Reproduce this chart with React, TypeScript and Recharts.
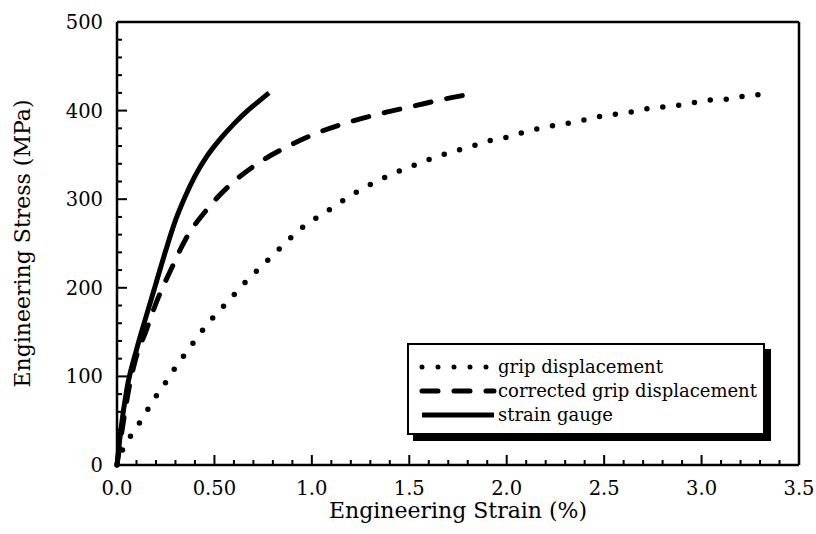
import { Label, Legend, Line, LineChart, XAxis, YAxis } from "recharts";

// grip displacement (dotted)
const gripStrain = [
  0, 0.03, 0.08, 0.135, 0.18, 0.24, 0.29, 0.345, 0.405, 0.46, 0.53, 0.6, 0.67, 0.74, 0.81, 0.88,
  0.95, 1.03, 1.11, 1.19, 1.27, 1.35, 1.43, 1.51, 1.59, 1.67, 1.76, 1.84, 1.91, 2.0, 2.08, 2.15,
  2.24, 2.32, 2.39, 2.47, 2.56, 2.63, 2.72, 2.8, 2.88, 2.96, 3.04, 3.13, 3.21, 3.29, 3.32
];
const gripStress = [
  0, 18, 36, 54, 71, 90, 107, 124, 142, 158, 175, 192, 209, 224, 239, 254,
  268, 280, 291, 303, 313, 322, 330, 337, 344, 350, 356, 361, 366, 370, 375, 379,
  383, 386, 389, 393, 396, 398, 402, 404, 406, 409, 412, 413, 416, 418, 419
];

// corrected grip displacement (dashed)
const corrStrain = [0, 0.03, 0.06, 0.09, 0.15, 0.21, 0.28, 0.35, 0.46, 0.58, 0.72, 0.88, 1.03, 1.19, 1.36, 1.52, 1.68, 1.85];
const corrStress = [0, 45, 85, 115, 152, 188, 222, 254, 288, 316, 340, 360, 375, 387, 397, 405, 413, 420];

// strain gauge (solid)
const gaugeStrain = [0, 0.02, 0.05, 0.1, 0.15, 0.2, 0.25, 0.3, 0.35, 0.4, 0.46, 0.53, 0.6, 0.67, 0.73, 0.78];
const gaugeStress = [0, 40, 85, 130, 168, 205, 242, 276, 303, 326, 348, 368, 385, 400, 411, 420];

const xTicks = [
  0, 0.1, 0.2, 0.3, 0.4, 0.5, 0.6, 0.7, 0.8, 0.9, 1.0, 1.1, 1.2, 1.3, 1.4, 1.5, 1.6, 1.7,
  1.8, 1.9, 2.0, 2.1, 2.2, 2.3, 2.4, 2.5, 2.6, 2.7, 2.8, 2.9, 3.0, 3.1, 3.2, 3.3, 3.4, 3.5
];
const xMajor = [0, 0.5, 1.0, 1.5, 2.0, 2.5, 3.0, 3.5];
const xLabels = ["0.0", "0.50", "1.0", "1.5", "2.0", "2.5", "3.0", "3.5"];

const yTicks = [
  0, 20, 40, 60, 80, 100, 120, 140, 160, 180, 200, 220, 240, 260, 280, 300, 320, 340, 360,
  380, 400, 420, 440, 460, 480, 500
];
const yMajor = [0, 100, 200, 300, 400, 500];
const yLabels = ["0", "100", "200", "300", "400", "500"];

const seriesNames = ["grip displacement", "corrected grip displacement", "strain gauge"];

const toRows = (xs: number[], ys: number[]) => xs.map((x, i) => ({ strain: x, stress: ys[i] }));

const FONT = "DejaVu Serif, Liberation Serif, serif";
const DOT = "0 16";
const DASH = "16 16";

function majorIndex(list: number[], v: number) {
  return list.findIndex((m) => Math.abs(m - v) < 1e-6);
}

function BottomTick(props: any) {
  const { x, y, payload } = props;
  const i = majorIndex(xMajor, payload.value);
  return (
    <g>
      <line x1={x} x2={x} y1={y} y2={y - (i >= 0 ? 10 : 5)} stroke="#000" strokeWidth={2} />
      {i >= 0 && (
        <text x={x} y={y + 30} textAnchor="middle" style={{ fontFamily: FONT, fontSize: 19.5 }} fill="#000">
          {xLabels[i]}
        </text>
      )}
    </g>
  );
}

function TopTick(props: any) {
  const { x, y, payload } = props;
  const i = majorIndex(xMajor, payload.value);
  return <line x1={x} x2={x} y1={y} y2={y + (i >= 0 ? 10 : 5)} stroke="#000" strokeWidth={2} />;
}

function LeftTick(props: any) {
  const { x, y, payload } = props;
  const i = majorIndex(yMajor, payload.value);
  return (
    <g>
      <line x1={x} x2={x + (i >= 0 ? 10 : 5)} y1={y} y2={y} stroke="#000" strokeWidth={2} />
      {i >= 0 && (
        <text x={x - 14} y={y + 7} textAnchor="end" style={{ fontFamily: FONT, fontSize: 19.5 }} fill="#000">
          {yLabels[i]}
        </text>
      )}
    </g>
  );
}

function RightTick(props: any) {
  const { x, y, payload } = props;
  const i = majorIndex(yMajor, payload.value);
  return <line x1={x} x2={x - (i >= 0 ? 10 : 5)} y1={y} y2={y} stroke="#000" strokeWidth={2} />;
}

function LegendBox() {
  const dashes = [DOT, DASH, undefined];
  return (
    <div
      style={{
        width: 358,
        height: 92,
        boxSizing: "border-box",
        border: "2.5px solid #000",
        boxShadow: "6px 6px 0 #000",
        background: "#fff",
        paddingTop: 10,
        fontFamily: FONT,
        fontSize: 18,
        color: "#000"
      }}
    >
      {seriesNames.map((name, i) => (
        <div key={name} style={{ display: "flex", alignItems: "center", height: 24, whiteSpace: "nowrap" }}>
          <svg width={80} height={24} style={{ marginLeft: 9 }}>
            <line
              x1={4}
              x2={76}
              y1={12}
              y2={12}
              stroke="#000"
              strokeWidth={5}
              strokeDasharray={dashes[i]}
              strokeLinecap={dashes[i] ? "round" : "butt"}
            />
          </svg>
          <span style={{ marginLeft: 0, lineHeight: "24px" }}>{name}</span>
        </div>
      ))}
    </div>
  );
}

export default function App() {
  return (
    <div style={{ position: "absolute", left: 0, top: 0, background: "#fff", fontFamily: FONT }}>
      <LineChart width={816} height={534} margin={{ top: 12, right: 7, bottom: 19, left: 57 }}>
        <XAxis
          xAxisId="b"
          dataKey="strain"
          type="number"
          domain={[0, 3.5]}
          ticks={xTicks}
          interval={0}
          tickSize={0}
          tickMargin={0}
          tick={BottomTick}
          height={50}
          axisLine={{ stroke: "#000", strokeWidth: 2.5 }}
        >
          <Label
            content={(p: any) => (
              <text
                x={p.viewBox.x + p.viewBox.width / 2}
                y={518}
                textAnchor="middle"
                style={{ fontFamily: FONT, fontSize: 22 }}
                fill="#000"
              >
                Engineering Strain (%)
              </text>
            )}
          />
        </XAxis>
        <XAxis
          xAxisId="t"
          orientation="top"
          type="number"
          domain={[0, 3.5]}
          ticks={xTicks}
          interval={0}
          tickSize={0}
          tickMargin={0}
          tick={TopTick}
          height={10}
          axisLine={{ stroke: "#000", strokeWidth: 2.5 }}
        />
        <YAxis
          yAxisId="l"
          type="number"
          domain={[0, 500]}
          ticks={yTicks}
          interval={0}
          tickSize={0}
          tickMargin={0}
          tick={LeftTick}
          width={60}
          axisLine={{ stroke: "#000", strokeWidth: 2.5 }}
        >
          <Label
            content={(p: any) => (
              <text
                transform={`translate(22, ${p.viewBox.y + p.viewBox.height / 2}) rotate(-90)`}
                textAnchor="middle"
                dominantBaseline="central"
                style={{ fontFamily: FONT, fontSize: 22 }}
                fill="#000"
              >
                Engineering Stress (MPa)
              </text>
            )}
          />
        </YAxis>
        <YAxis
          yAxisId="r"
          orientation="right"
          type="number"
          domain={[0, 500]}
          ticks={yTicks}
          interval={0}
          tickSize={0}
          tickMargin={0}
          tick={RightTick}
          width={10}
          axisLine={{ stroke: "#000", strokeWidth: 2.5 }}
        />
        <Legend
          layout="horizontal"
          verticalAlign="middle"
          align="center"
          content={() => <LegendBox />}
          wrapperStyle={{ left: 407, top: 343, width: 358, height: 92 }}
        />
        <Line
          xAxisId="b"
          yAxisId="l"
          data={toRows(gripStrain, gripStress)}
          dataKey="stress"
          name={seriesNames[0]}
          type="monotone"
          stroke="#000"
          strokeWidth={5.5}
          strokeDasharray={DOT}
          strokeLinecap="round"
          dot={false}
          isAnimationActive={false}
        />
        <Line
          xAxisId="b"
          yAxisId="l"
          data={toRows(corrStrain, corrStress)}
          dataKey="stress"
          name={seriesNames[1]}
          type="monotone"
          stroke="#000"
          strokeWidth={5}
          strokeDasharray={DASH}
          strokeLinecap="round"
          dot={false}
          isAnimationActive={false}
        />
        <Line
          xAxisId="b"
          yAxisId="l"
          data={toRows(gaugeStrain, gaugeStress)}
          dataKey="stress"
          name={seriesNames[2]}
          type="monotone"
          stroke="#000"
          strokeWidth={5}
          dot={false}
          isAnimationActive={false}
        />
      </LineChart>
    </div>
  );
}
